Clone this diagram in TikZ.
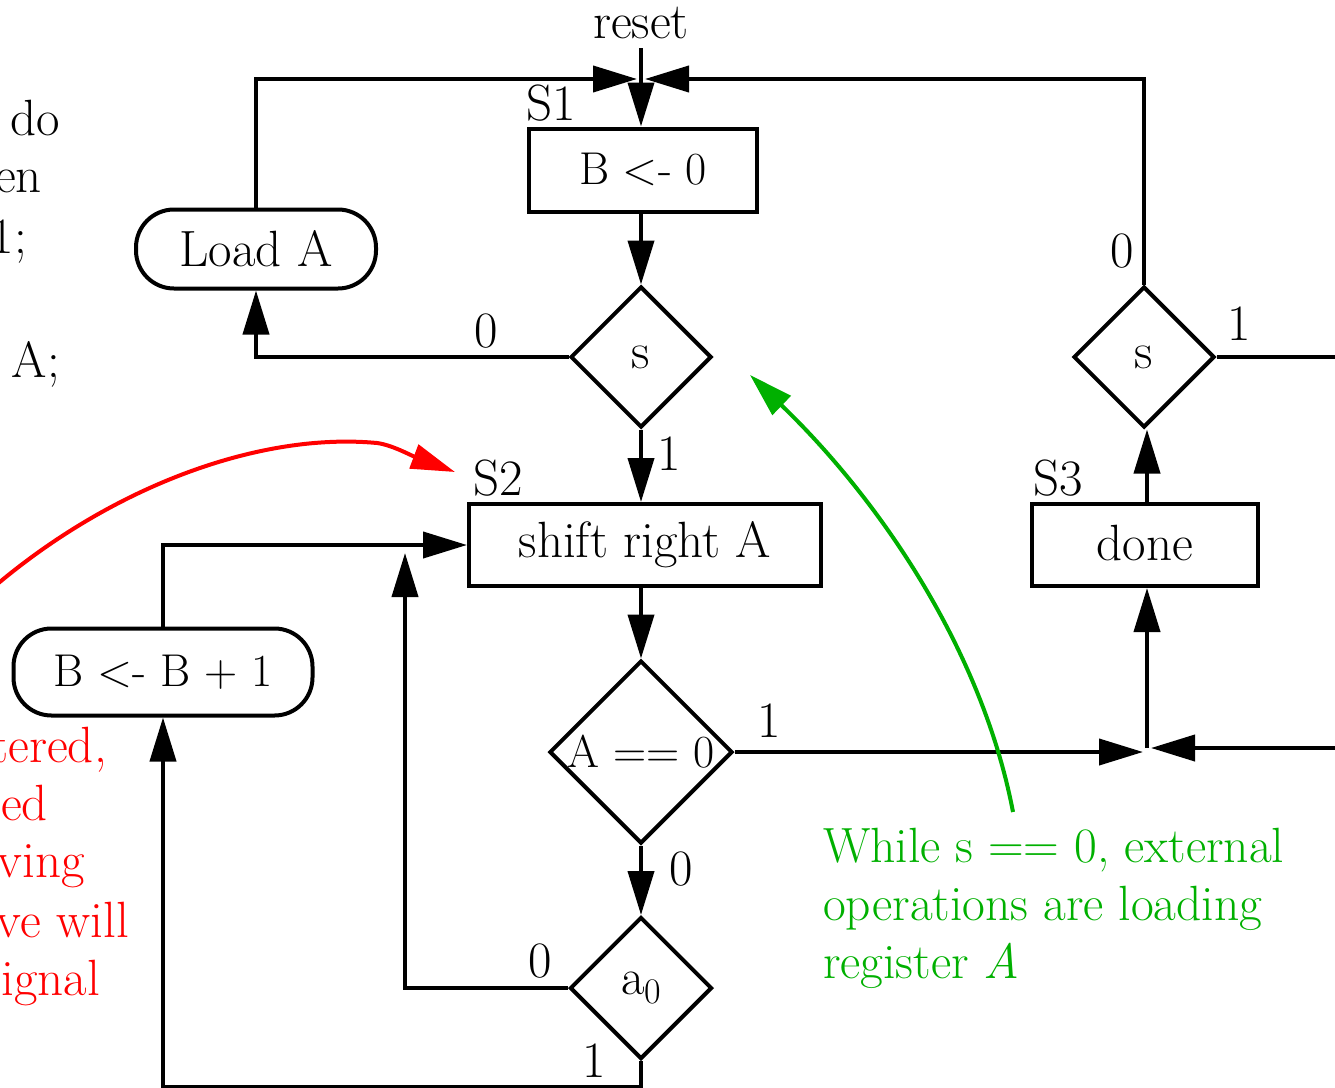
\documentclass[tikz,border=0pt]{standalone}
\usepackage{fontspec}
\usetikzlibrary{arrows.meta,shapes.geometric}
\definecolor{annred}{RGB}{255,0,0}
\definecolor{anngreen}{RGB}{0,176,0}
\tikzset{
  every node/.style={font=\fontsize{51pt}{58pt}\selectfont, inner sep=0pt},
  narrowtext/.style={font=\fontsize{46pt}{58pt}\selectfont},
  flow/.style={line width=4pt, draw=black},
  tipshape/.style={-{Triangle[length=44pt,width=26pt]}},
  arr/.style={flow, tipshape},
  statebox/.style={draw, line width=4pt, rectangle, minimum height=82pt},
  decision/.style={draw, line width=4pt, diamond, aspect=1},
  action/.style={draw, line width=4pt, rectangle, rounded corners=38pt},
  lbl/.style={anchor=base},
  frag/.style={anchor=base east},
  note/.style={anchor=base west, text=anngreen, font=\fontsize{49.5pt}{58pt}\selectfont},
  redarr/.style={line width=4pt, draw=annred, -{Triangle[length=44pt,width=25pt]}},
  greenarr/.style={line width=4pt, draw=anngreen, -{Triangle[length=44pt,width=26pt]}},
}
\begin{document}
\begin{tikzpicture}[x=1pt,y=-1pt]
\useasboundingbox (0,0) rectangle (1335,1087);
\clip (0,0) rectangle (1335,1087);

% cut-off text at the left
\node[frag] (t1) at (60,135) {do};
\node[frag] (t2) at (42,192) {en};
\node[frag] (t3) at (27,253) {1;};
\node[frag] (t4) at (60,377) {A;};
\node[frag, text=annred] (r1) at (107,762) {tered,};
\node[frag, text=annred] (r2) at (48,820) {ed};
\node[frag, text=annred] (r3) at (85,877) {ving};
\node[frag, text=annred] (r4) at (129,937) {ve will};
\node[frag, text=annred] (r5) at (100,995) {ignal};

% main nodes
\node[statebox, narrowtext, minimum width=228pt, minimum height=83pt] (b0) at (643,170) {\raisebox{3pt}{B <- 0}};
\node[decision, minimum width=141pt, minimum height=141pt] (s1) at (641,357) {\makebox[0pt]{s}};
\node[action, minimum width=240pt, minimum height=79pt] (loadA) at (256,249) {Load A};
\node[statebox, minimum width=352pt] (sr) at (645,545) {\raisebox{3pt}{shift right A}};
\node[decision, narrowtext, minimum width=183pt, minimum height=183pt] (aeq) at (641,752) {\makebox[0pt]{A == 0}};
\node[decision, minimum width=142pt, minimum height=142pt] (a0) at (641,988) {\makebox[0pt]{a\raisebox{-9pt}{\fontsize{36pt}{36pt}\selectfont 0}}};
\node[action, narrowtext, minimum width=299pt, minimum height=87pt] (bp1) at (163,672) {B <- B + 1};
\node[decision, minimum width=141pt, minimum height=141pt] (s2) at (1144,357) {\makebox[0pt]{s}};
\node[statebox, minimum width=226pt] (done) at (1145,545) {\raisebox{4pt}{done}};

% state names
\node[lbl] (reset) at (641,38) {reset};
\node[anchor=base west] (nS1) at (526,120) {S1};
\node[anchor=base west] (nS2) at (473,495) {S2};
\node[anchor=base west] (nS3) at (1033,495) {S3};

% branch labels
\node[lbl] (l1) at (486,347) {0};
\node[lbl] (l2) at (669,470) {1};
\node[lbl] (l3) at (1122,267) {0};
\node[lbl] (l4) at (1239,340) {1};
\node[lbl] (l5) at (769,737) {1};
\node[lbl] (l6) at (681,885) {0};
\node[lbl] (l7) at (540,977) {0};
\node[lbl] (l8) at (594,1077) {1};

% coordinates
\coordinate (rs) at (641,48);
\coordinate (topL) at (637,79);
\coordinate (topR) at (645,79);
\coordinate (jL) at (1143,752);
\coordinate (jR) at (1151,748);
\coordinate (jU) at (1147,748);
\coordinate (rin) at (1345,748);
\coordinate (rout) at (1345,357);
\coordinate (hit) at (405,553);

% connectors
\draw[arr] (rs) -- (b0.north -| rs);
\draw[arr] (loadA.north) |- (topL);
\draw[arr] (s2.north) |- (topR);
\draw[arr] (b0.south -| s1.north) -- (s1.north);
\draw[arr] (s1.west) -| (loadA.south);
\draw[arr] (s1.south) -- (s1.south |- sr.north);
\draw[arr] (sr.south -| aeq.north) -- (aeq.north);
\draw[arr] (aeq.east) -- (jL);
\draw[arr] (rin) -- (jR);
\draw[arr] (jU) -- (jU |- done.south);
\draw[arr] (done.north -| jU) -- (jU |- s2.south);
\draw[flow] (s2.east) -- (rout);
\draw[arr] (aeq.south) -- (a0.north);
\draw[arr] (a0.west) -| (hit);
\draw[arr] (a0.south) -- ++(0,26) -| (bp1.south);
\draw[arr] (bp1.north) |- (sr.west);

% annotations
\coordinate (rstart) at (-12,592);
\coordinate (rmid) at (377,443);
\coordinate (rend) at (455,472);
\draw[redarr] (rstart) .. controls (110,486) and (260,432) .. (rmid) .. controls (392,445) and (410,455) .. (rend);

\coordinate (gstart) at (1013,812);
\coordinate (gend) at (750,375);
\draw[greenarr] (gstart) .. controls (982,650) and (880,500) .. (gend);

\node[note] (g1) at (823,862) {While s == 0, external};
\node[note] (g2) at (823,920) {operations are loading};
\node[note] (g3) at (823,978) {register \textit{A}};
\end{tikzpicture}
\end{document}
